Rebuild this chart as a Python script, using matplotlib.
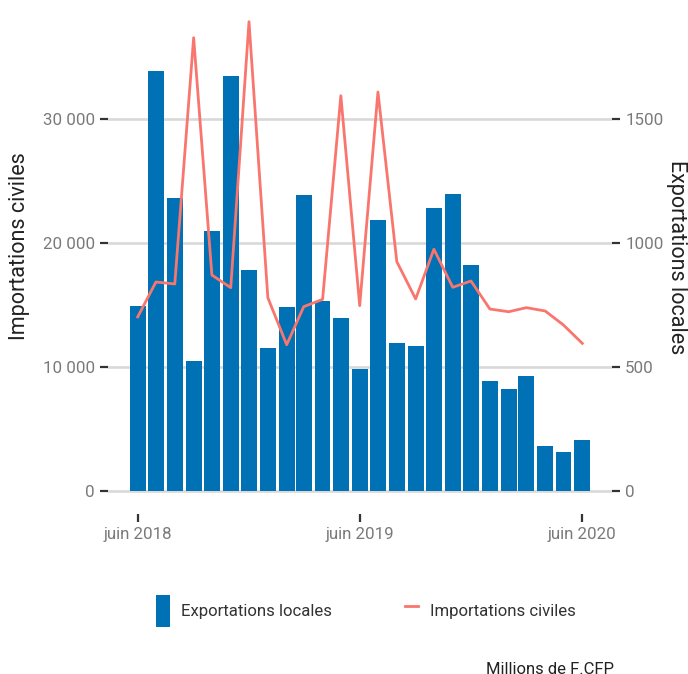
import pandas as pd
import matplotlib
matplotlib.use("Agg")
import matplotlib.pyplot as plt
from matplotlib.patches import Patch
from matplotlib.lines import Line2D

# monthly values, Millions de F.CFP
months = pd.date_range("2018-06-01", "2020-06-01", freq="MS")
exportations = [747, 1695, 1183, 526, 1050, 1675, 892, 578, 743, 1195, 767, 699, 493,
                1094, 598, 586, 1143, 1199, 913, 445, 413, 465, 183, 159, 207]
importations = [14060, 16880, 16720, 36580, 17440, 16420, 37870, 15610, 11820, 14890,
                15480, 31900, 14970, 32200, 18520, 15510, 19520, 16450, 16960, 14700,
                14480, 14810, 14540, 13410, 11930]

x_ticks = pd.to_datetime(["2018-06-01", "2019-06-01", "2020-06-01"])
x_tick_labels = ["juin 2018", "juin 2019", "juin 2020"]
left_ticks = [0, 10000, 20000, 30000]
left_tick_labels = ["0", "10 000", "20 000", "30 000"]
right_ticks = [0, 500, 1000, 1500]

BLUE = "#0071B4"
RED = "#F8766D"
TICK_GREY = "#7A7A7A"
DARK = "#222222"

plt.rcParams["font.family"] = ["Roboto", "DejaVu Sans"]

fig = plt.figure(figsize=(6.88, 6.74), dpi=100)
ax = fig.add_axes([108 / 688, 160 / 674, 504 / 688, 514 / 674])

# bars (Exportations locales) on the right-hand scale
ax.bar(months, exportations, width=26, color=BLUE, zorder=2)
ax.set_ylim(-91.5, 1981)
ax.grid(axis="y", color="#D9D9D9", linewidth=1.9)
ax.set_axisbelow(True)

# line (Importations civiles) on the left-hand scale, drawn above the bars
ax2 = ax.twinx()
ax2.plot(months, importations, color=RED, linewidth=2.0, zorder=3)
ax2.set_ylim(-1831, 39620)

# swap sides: bars scale on the right, line scale on the left
ax.yaxis.tick_right()
ax.yaxis.set_label_position("right")
ax.set_yticks(right_ticks)
ax.set_ylabel("Exportations locales", fontsize=15.5, color=DARK, rotation=-90,
              va="center", ha="center")
ax.yaxis.set_label_coords((677 - 108) / 504, 0.5)
ax2.yaxis.tick_left()
ax2.yaxis.set_label_position("left")
ax2.set_yticks(left_ticks)
ax2.set_yticklabels(left_tick_labels)
ax2.set_ylabel("Importations civiles", fontsize=15.5, color=DARK,
               va="center", ha="center")
ax2.yaxis.set_label_coords((20 - 108) / 504, (514 - 246) / 514)

start = pd.Timestamp("2018-06-01") - pd.Timedelta(days=48.8)
end = pd.Timestamp("2020-06-01") + pd.Timedelta(days=48.8)
ax.set_xlim(start, end)
ax.set_xticks(x_ticks)
ax.set_xticklabels(x_tick_labels)

for a in (ax, ax2):
    for s in a.spines.values():
        s.set_visible(False)
    a.tick_params(axis="both", length=5.5, width=1.6, color="#333333",
                  labelcolor=TICK_GREY, labelsize=12.2, pad=4)
ax2.tick_params(axis="x", bottom=False, labelbottom=False)

handles = [Patch(facecolor=BLUE, edgecolor="none"),
           Line2D([0], [0], color=RED, linewidth=2.0)]
leg = fig.legend(handles, ["Exportations locales", "Importations civiles"],
                 loc="center", bbox_to_anchor=(366 / 688, 1 - 611 / 674), ncol=2,
                 frameon=False, fontsize=12.1, handlelength=0.8, handleheight=2.5,
                 handletextpad=0.7, columnspacing=4.3, borderpad=0)
for t in leg.get_texts():
    t.set_color("#333333")

fig.text(486 / 688, 1 - 662 / 674, "Millions de F.CFP", fontsize=12, color=DARK,
         va="top", ha="left")

fig.savefig("out.png", dpi=100)
